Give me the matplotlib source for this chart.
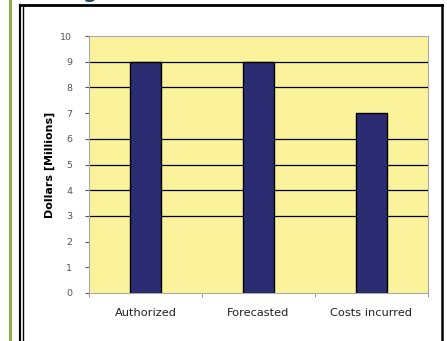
import numpy as np
import matplotlib.pyplot as plt
from matplotlib.lines import Line2D

categories = ["Authorized", "Forecasted", "Costs incurred"]
values = [9, 9, 7]
yticks = list(range(0, 11))
grid_levels = [3, 4, 5, 6, 8, 9]

f = plt.figure(figsize=(4.47, 3.41), dpi=100)
f.patch.set_facecolor("white")

# outer frame bits from the slide
f.add_artist(Line2D([10 / 447, 10 / 447], [0, 1], color="#8db04a", lw=2.2))
f.add_artist(Line2D([20 / 447, 20 / 447], [0, 1 - 5 / 341], color="black", lw=1.6))
f.add_artist(Line2D([23 / 447, 23 / 447], [0, 1 - 7 / 341], color="black", lw=1.0))
f.add_artist(Line2D([20 / 447, 442 / 447], [1 - 5 / 341, 1 - 5 / 341], color="black", lw=2.0))
f.add_artist(Line2D([442 / 447, 442 / 447], [0, 1 - 5 / 341], color="black", lw=1.8))
# bottom of the slide title, cut off at the top edge
f.text(82 / 447, 1 + 2 / 341, "g", fontsize=15, fontweight="bold", color="#1c4d63", va="baseline")

ax = f.add_axes([89 / 447, 48 / 341, 339 / 447, 257 / 341])
ax.set_facecolor("#faf39c")
x = np.arange(len(categories))
for lvl in grid_levels:
    ax.axhline(lvl, color="black", lw=0.9, zorder=1)
ax.bar(x, values, width=0.28, color="#2b2c72", edgecolor="black", lw=1.0, zorder=2)

ax.set_xlim(-0.5, 2.5)
ax.set_ylim(0, 10)
ax.set_yticks(yticks)
ax.set_yticklabels([str(t) for t in yticks], fontsize=6.8, color="#555555")
ax.set_xticks(x)
ax.set_xticklabels(categories, fontsize=8.2, color="#222222")
ax.tick_params(axis="x", length=0, pad=11)
ax.set_xticks([-0.5, 0.5, 1.5, 2.5], minor=True)
ax.tick_params(axis="x", which="minor", length=3, color="#888888")
ax.tick_params(axis="y", length=3, width=0.8, color="#555555", pad=9)
for s in ax.spines.values():
    s.set_color("#aaaaaa")
    s.set_linewidth(0.8)
ax.set_ylabel("Dollars [Millions]", fontsize=8, fontweight="bold", labelpad=4)

f.savefig("out.png", dpi=100)
